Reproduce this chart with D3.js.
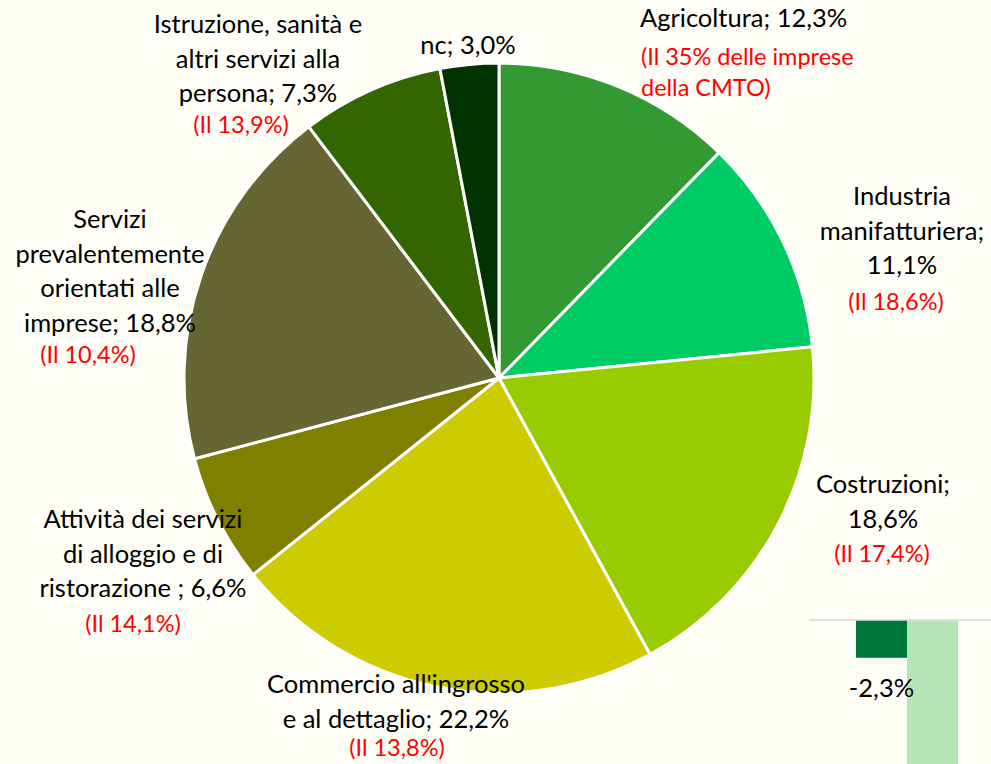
<!DOCTYPE html>
<html>
<head>
<meta charset="utf-8">
<script src="https://cdn.jsdelivr.net/npm/d3@7/dist/d3.min.js"></script>
<style>
  html, body { margin: 0; padding: 0; background: #fefef6; }
  svg { display: block; font-family: Lato, "Open Sans", sans-serif; }
</style>
</head>
<body>
<svg id="chart" width="991" height="764"></svg>
<script>
// sectors, clockwise from 12 o'clock
const sectors = ['Agricoltura', 'Industria manifatturiera', 'Costruzioni',
  "Commercio all'ingrosso e al dettaglio", 'Attività dei servizi di alloggio e di ristorazione',
  'Servizi prevalentemente orientati alle imprese', 'Istruzione, sanità e altri servizi alla persona', 'nc'];
const shares = [12.3, 11.1, 18.6, 22.2, 6.6, 18.8, 7.3, 3.0];
const colors = ['#339933', '#00cc66', '#99cc00', '#cccc00', '#808000', '#666633', '#336600', '#003300'];

// label text as shown, line by line
const labelLines = [
  ['Agricoltura; 12,3%'],
  ['Industria', 'manifatturiera;', '11,1%'],
  ['Costruzioni;', '18,6%'],
  ["Commercio all'ingrosso", 'e al dettaglio; 22,2%'],
  ['Attività dei servizi', 'di alloggio e di', 'ristorazione ; 6,6%'],
  ['Servizi', 'prevalentemente', 'orientati alle', 'imprese; 18,8%'],
  ['Istruzione, sanità e', 'altri servizi alla', 'persona; 7,3%'],
  ['nc; 3,0%']
];
const notes = [
  ['(Il 35% delle imprese', 'della CMTO)'],
  ['(Il 18,6%)'],
  ['(Il 17,4%)'],
  ['(Il 13,8%)'],
  ['(Il 14,1%)'],
  ['(Il 10,4%)'],
  ['(Il 13,9%)'],
  []
];

// fragment of the neighbouring bar chart (bottom right)
const barKeys = ['a', 'b'];
const barValues = [-2.3, -10.5];
const barColors = ['#00773a', '#b3e5b5'];
const barLabels = ['-2,3%', ''];

const svg = d3.select('#chart');
const cx = 499, cy = 378, radius = 315;

// label layout: anchor, x, first baseline (layout only)
const labelPos = [
  { anchor: 'start', x: 640, y: 27, nx: 641, ny: 65 },
  { anchor: 'middle', x: 902, y: 205, nx: 896, ny: 310 },
  { anchor: 'middle', x: 883, y: 493, nx: 882, ny: 562 },
  { anchor: 'middle', x: 396, y: 693, nx: 397, ny: 756 },
  { anchor: 'middle', x: 143, y: 528, nx: 133, ny: 632 },
  { anchor: 'middle', x: 110, y: 228, nx: 88, ny: 363 },
  { anchor: 'middle', x: 258, y: 33, nx: 241, ny: 133 },
  { anchor: 'middle', x: 468, y: 54, nx: 0, ny: 0 }
];

const pie = d3.pie().sort(null).value(d => d);
const arc = d3.arc().innerRadius(0).outerRadius(radius);

const g = svg.append('g').attr('transform', `translate(${cx},${cy})`);
g.selectAll('path')
  .data(pie(shares))
  .join('path')
    .attr('d', arc)
    .attr('fill', (d, i) => colors[i])
    .attr('stroke', '#ffffff')
    .attr('stroke-width', 3)
    .attr('stroke-linejoin', 'round');

const labels = svg.append('g');
labelLines.forEach((lines, i) => {
  let p = labelPos[i];
  let t = labels.append('text')
    .attr('text-anchor', p.anchor)
    .attr('font-size', 25.5)
    .attr('fill', '#000000');
  lines.forEach((l, j) => {
    t.append('tspan').attr('x', p.x).attr('y', p.y + j * 34.5).text(l);
  });
  if (notes[i].length) {
    let n = labels.append('text')
      .attr('text-anchor', p.anchor)
      .attr('font-size', 23.5)
      .attr('fill', '#ff0000');
    notes[i].forEach((l, j) => {
      n.append('tspan').attr('x', p.nx).attr('y', p.ny + j * 30.5).text(l);
    });
  }
});

// bar fragment
const bx = d3.scaleBand().domain(barKeys).range([856, 958]).padding(0);
const by = d3.scaleLinear().domain([0, -10]).range([620, 781]);

const bars = svg.append('g');
bars.append('line')
  .attr('x1', 809).attr('x2', 991)
  .attr('y1', by(0)).attr('y2', by(0))
  .attr('stroke', '#d9d9d9').attr('stroke-width', 1.5);
bars.selectAll('rect')
  .data(barValues)
  .join('rect')
    .attr('x', (d, i) => bx(barKeys[i]))
    .attr('width', bx.bandwidth())
    .attr('y', by(0) + 0.75)
    .attr('height', d => by(d) - by(0))
    .attr('fill', (d, i) => barColors[i]);
bars.selectAll('text')
  .data(barValues)
  .join('text')
    .attr('x', (d, i) => bx(barKeys[i]) + bx.bandwidth() / 2)
    .attr('y', d => by(d) + 40)
    .attr('text-anchor', 'middle')
    .attr('font-size', 25.5)
    .attr('fill', '#000000')
    .text((d, i) => barLabels[i]);
</script>
</body>
</html>
